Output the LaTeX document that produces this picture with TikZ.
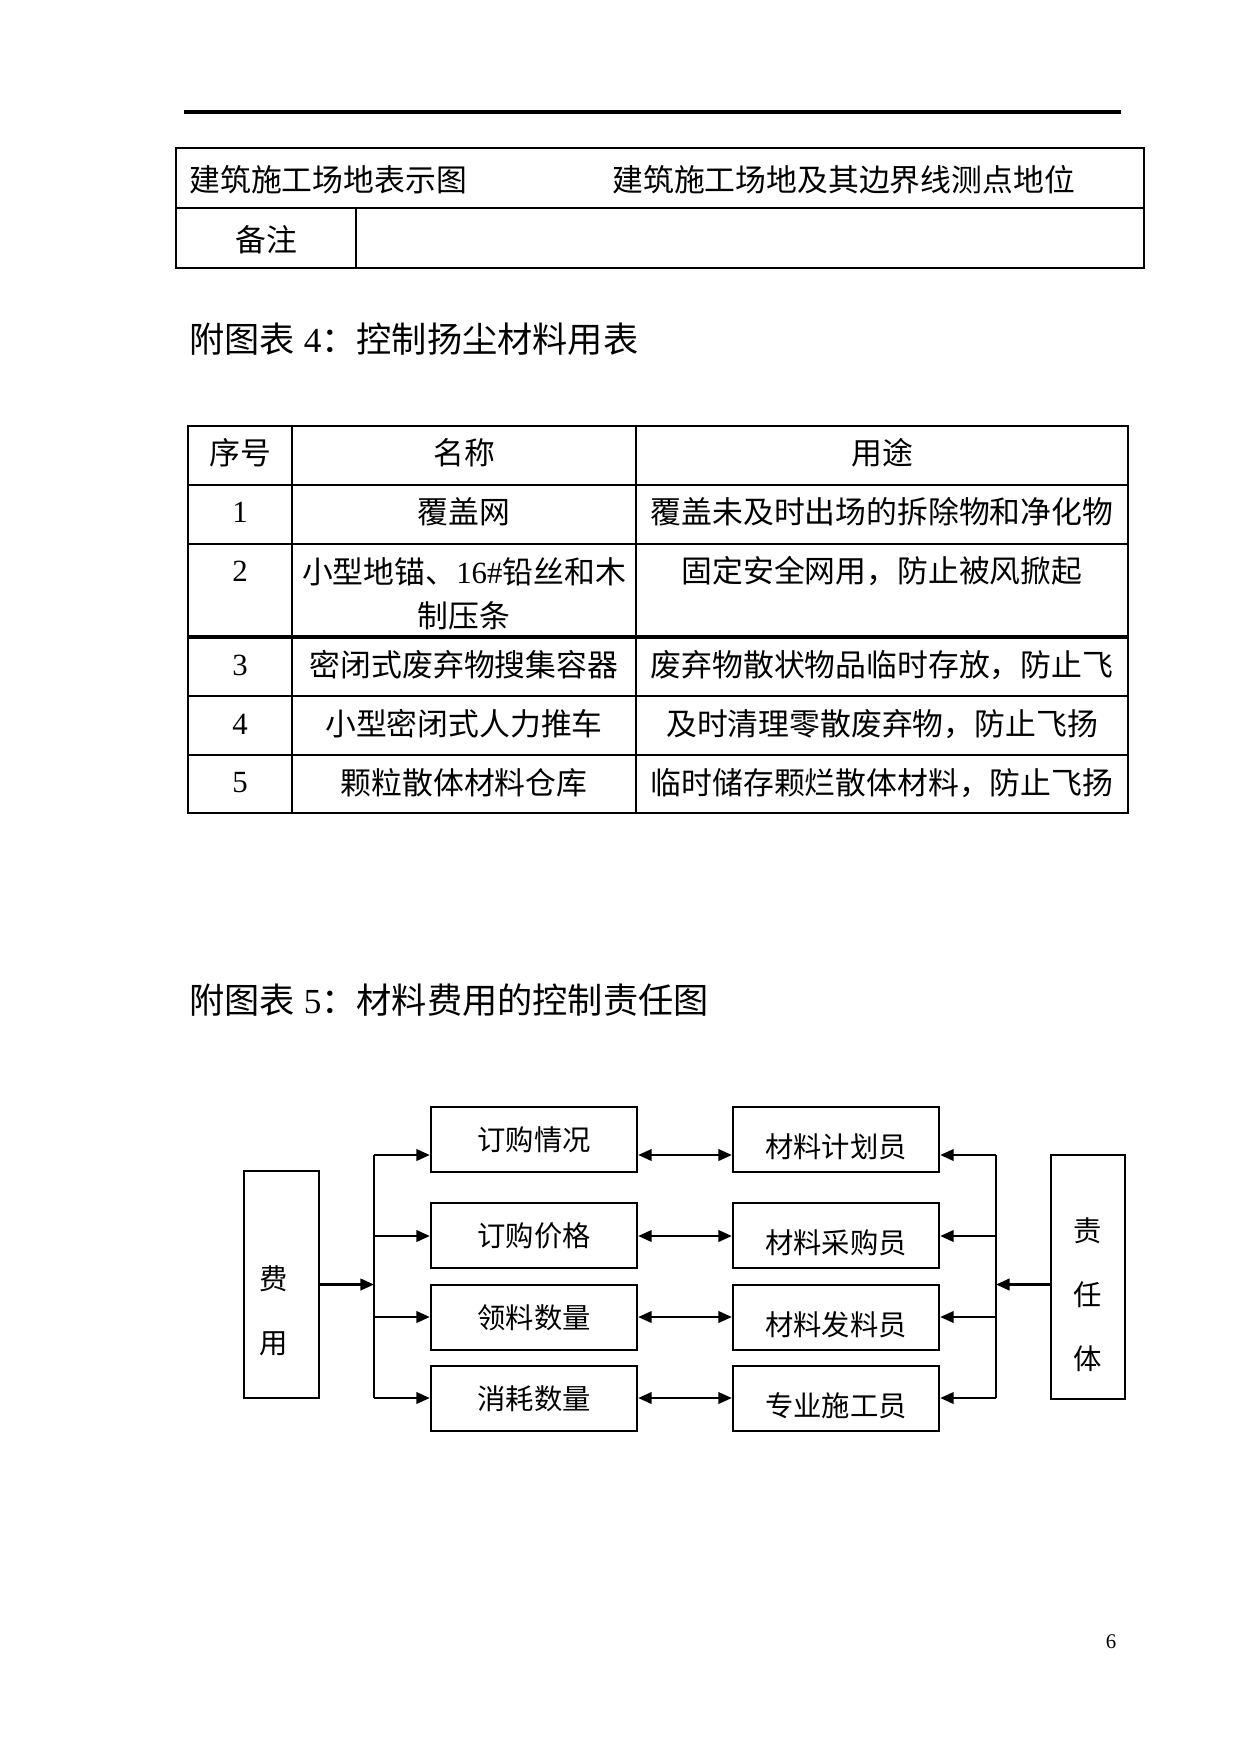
\documentclass[tikz,border=0pt]{standalone}
\usepackage{fontspec}
\setmainfont{Liberation Serif}
\newfontfamily\cjk{Noto Sans CJK SC}
\usetikzlibrary{arrows.meta,positioning,calc}
\newcommand\pxu{0.48pt}
\tikzset{
  tabline/.style={line width=0.9pt},
  tabthick/.style={line width=1.7pt},
  celltext/.style={font=\fontsize{14.8}{21}\selectfont\cjk, inner sep=0pt},
  heading/.style={font=\fontsize{16.9}{20}\selectfont, anchor=west, inner sep=0pt},
  flowbox/.style={
    rectangle, draw, line width=1.1pt,
    minimum width=206*\pxu, minimum height=65*\pxu, inner sep=0pt,
    font=\fontsize{13.6}{16}\selectfont\cjk
  },
  rolebox/.style={flowbox, text height=17pt, text depth=0pt},
  sidebox/.style={rectangle, draw, line width=1.1pt, minimum width=75*\pxu, inner sep=0pt},
  sidetext/.style={font=\fontsize{13.6}{30.7}\selectfont\cjk, align=center, inner sep=0pt},
  flowarrow/.style={-{Triangle[length=6.5pt, width=5.5pt]}, line width=1.2pt},
  dblarrow/.style={{Triangle[length=6.5pt, width=5.5pt]}-{Triangle[length=6.5pt, width=5.5pt]}, line width=1.2pt}
}

\begin{document}
\begin{tikzpicture}[x=\pxu, y=-\pxu]
    \useasboundingbox[fill=white] (0,0) rectangle (1241,1754);

    \draw[line width=1.5pt] (184,112) -- (1121,112);

    % site table
    \draw[tabline] (176,148) rectangle (1144,268);
    \draw[tabline] (176,208) -- (1144,208);
    \draw[tabline] (356,208) -- (356,268);
    \node[celltext, anchor=west] (sa) at (189,180) {建筑施工场地表示图};
    \node[celltext, anchor=west] (sb) at (612,180) {建筑施工场地及其边界线测点地位};
    \node[celltext] (sc) at (266,240) {备注};

    \node[heading] (h4) at (189,339) {{\cjk 附图表} 4{\cjk ：控制扬尘材料用表}};

    % dust table
    \draw[tabline] (188,426) rectangle (1128,813);
    \foreach \yy in {485,544,696,755}
      \draw[tabline] (188,\yy) -- (1128,\yy);
    \draw[tabthick] (188,637) -- (1128,637);
    \draw[tabline] (292,426) -- (292,813);
    \draw[tabline] (636,426) -- (636,813);

    \node[celltext] (c0a) at (240,453) {序号};
    \node[celltext] (c0b) at (464,453) {名称};
    \node[celltext] (c0c) at (882,453) {用途};
    \node[celltext] (c1a) at (240,512) {\rmfamily 1};
    \node[celltext] (c1b) at (464,512) {覆盖网};
    \node[celltext] (c1c) at (882,512) {覆盖未及时出场的拆除物和净化物};
    \node[celltext] (c2a) at (240,571) {\rmfamily 2};
    \node[celltext, align=center] (c2b) at (464,594) {小型地锚、{\rmfamily 16\#}铅丝和木\\制压条};
    \node[celltext] (c2c) at (882,571) {固定安全网用，防止被风掀起};
    \node[celltext] (c3a) at (240,665) {\rmfamily 3};
    \node[celltext] (c3b) at (464,665) {密闭式废弃物搜集容器};
    \node[celltext] (c3c) at (882,665) {废弃物散状物品临时存放，防止飞};
    \node[celltext] (c4a) at (240,724) {\rmfamily 4};
    \node[celltext] (c4b) at (464,724) {小型密闭式人力推车};
    \node[celltext] (c4c) at (882,724) {及时清理零散废弃物，防止飞扬};
    \node[celltext] (c5a) at (240,783) {\rmfamily 5};
    \node[celltext] (c5b) at (464,783) {颗粒散体材料仓库};
    \node[celltext] (c5c) at (882,783) {临时储存颗烂散体材料，防止飞扬};

    \node[heading] (h5) at (189,1000) {{\cjk 附图表} 5{\cjk ：材料费用的控制责任图}};

    % responsibility chart
    \node[sidebox, minimum height=227*\pxu] (fy) at (281.5,1284.5) {};
    \node[sidetext] (fyt) at (274,1311) {费\\用};
    \node[sidebox, minimum width=74*\pxu, minimum height=244*\pxu] (zr) at (1088,1277) {};
    \node[sidetext] (zrt) at (1088,1295) {责\\任\\体};

    \node[flowbox] (qk) at (534,1139.5) {订购情况};
    \node[flowbox] (jg) at (534,1235.5) {订购价格};
    \node[flowbox] (ll) at (534,1317.5) {领料数量};
    \node[flowbox] (xh) at (534,1398.5) {消耗数量};
    \node[rolebox, right=45pt of qk] (jh) {材料计划员};
    \node[rolebox, right=45pt of jg] (cg) {材料采购员};
    \node[rolebox, right=45pt of ll] (fl) {材料发料员};
    \node[rolebox, right=45pt of xh] (sg) {专业施工员};

    \coordinate (lb1) at (374,1155);
    \coordinate (lb2) at (374,1236);
    \coordinate (lb3) at (374,1317);
    \coordinate (lb4) at (374,1398);
    \coordinate (rb1) at (996,1155);
    \coordinate (rb2) at (996,1236);
    \coordinate (rb3) at (996,1317);
    \coordinate (rb4) at (996,1398);
    \draw[line width=1.1pt] (lb1) -- (lb4);
    \draw[line width=1.1pt] (rb1) -- (rb4);

    \draw[flowarrow] (fy.east) -- (fy.east -| lb1);
    \draw[flowarrow] (zr.west |- fy.east) -- (fy.east -| rb1);

    \draw[flowarrow] (lb1) -- (qk.west |- lb1);
    \draw[flowarrow] (lb2) -- (jg.west |- lb2);
    \draw[flowarrow] (lb3) -- (ll.west |- lb3);
    \draw[flowarrow] (lb4) -- (xh.west |- lb4);
    \draw[dblarrow] (qk.east |- lb1) -- (jh.west |- lb1);
    \draw[dblarrow] (jg.east |- lb2) -- (cg.west |- lb2);
    \draw[dblarrow] (ll.east |- lb3) -- (fl.west |- lb3);
    \draw[dblarrow] (xh.east |- lb4) -- (sg.west |- lb4);
    \draw[flowarrow] (rb1) -- (jh.east |- rb1);
    \draw[flowarrow] (rb2) -- (cg.east |- rb2);
    \draw[flowarrow] (rb3) -- (fl.east |- rb3);
    \draw[flowarrow] (rb4) -- (sg.east |- rb4);

    \node[font=\fontsize{10}{12}\selectfont, inner sep=0pt] (pg) at (1111,1642) {6};
\end{tikzpicture}
\end{document}
